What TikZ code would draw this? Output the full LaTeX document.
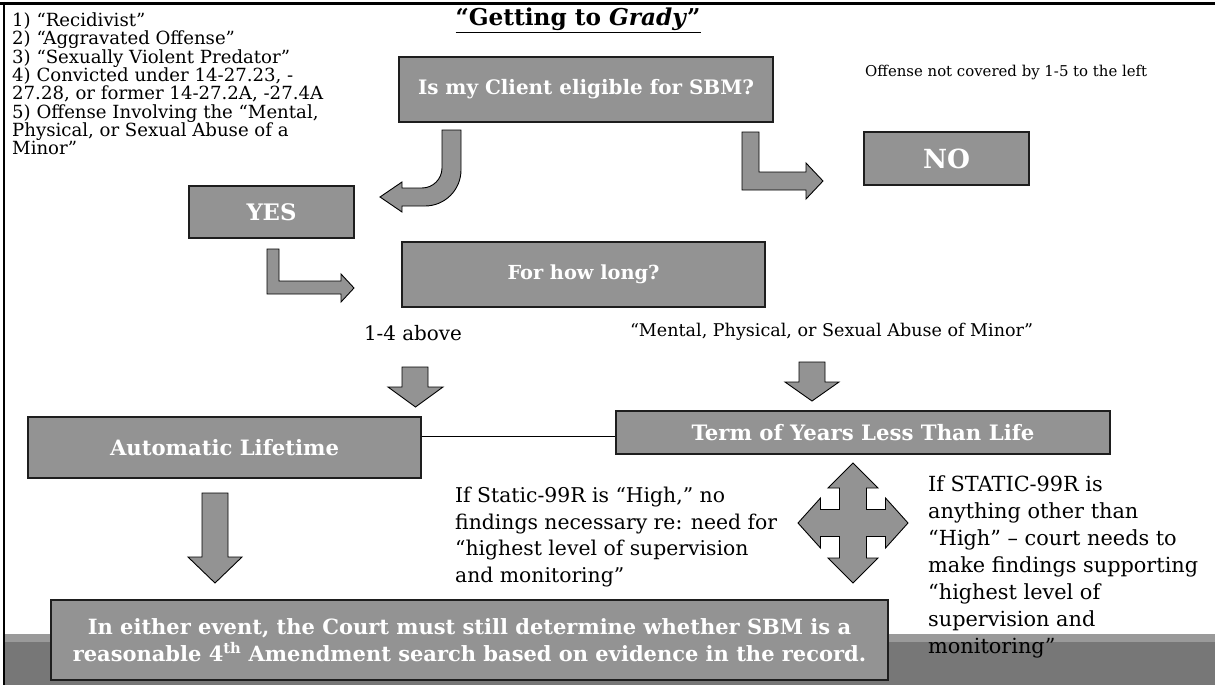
\documentclass[tikz,border=0pt]{standalone}
\usepackage{fontspec}
\setmainfont{DejaVu Serif}
\newlength\fitlen
% #1 target width of the sample line (pt), #2 baselineskip (pt), #3 sample line
\newcommand\fitto[3]{\settowidth\fitlen{\fontsize{10pt}{12pt}\selectfont #3}\pgfmathsetmacro\fitfs{10*#1/\fitlen}\fontsize{\fitfs pt}{#2pt}\selectfont}
\definecolor{boxgray}{HTML}{939393}
\definecolor{boxline}{HTML}{1E1E1E}
\definecolor{bandlight}{HTML}{9A9A9A}
\definecolor{banddark}{HTML}{777777}
\tikzset{
  gbox/.style={draw=boxline, line width=1.4pt, fill=boxgray, text=white, inner sep=0pt, align=center},
  blockarrow/.style={draw=black, line width=0.9pt, fill=boxgray, line join=miter},
  plain/.style={inner sep=0pt, text=black},
  link/.style={draw=black, line width=0.8pt},
}
\begin{document}
\begin{tikzpicture}[x=1pt,y=-1pt]
\useasboundingbox (0,0) rectangle (1215,685);
% bottom band
\fill[bandlight] (4,634) rectangle (1215,642);
\fill[banddark] (4,642) rectangle (1215,685);
% frame
\draw[line width=3pt] (0,3.5) -- (1215,3.5);
\draw[line width=2.5pt] (4,2) -- (4,685);

% title
\node[plain, font={\bfseries\fitto{245}{20}{“Getting to \textit{Grady}”}}] (title) at (578,20) {\underline{“Getting to \textit{Grady}”}};

% left list
\node[plain, anchor=west, align=left, font={\fitto{311}{18.33}{27.28, or former 14-27.2A, -27.4A}}] (list) at (12,84) {1) “Recidivist”\\2) “Aggravated Offense”\\3) “Sexually Violent Predator”\\4) Convicted under 14-27.23, -\\27.28, or former 14-27.2A, -27.4A\\5) Offense Involving the “Mental,\\Physical, or Sexual Abuse of a\\Minor”};

% free labels
\node[plain, anchor=west, font={\fitto{282}{18}{Offense not covered by 1-5 to the left}}] (offense) at (865,72) {Offense not covered by 1-5 to the left};
\node[plain, font={\fitto{98}{18}{1-4 above}}] (above) at (413,333) {1-4 above};
\node[plain, font={\fitto{403}{18}{“Mental, Physical, or Sexual Abuse of Minor”}}] (mental) at (831.5,332) {“Mental, Physical, or Sexual Abuse of Minor”};
\node[plain, anchor=west, align=left, font={\fitto{322}{26.8}{findings necessary re: need for}}] (high) at (455,537) {If Static-99R is “High,” no\\findings necessary re: need for\\“highest level of supervision\\and monitoring”};
\node[plain, anchor=west, align=left, font={\fitto{270}{27}{make findings supporting}}] (other) at (928,566.5) {If STATIC-99R is\\anything other than\\“High” – court needs to\\make findings supporting\\“highest level of\\supervision and\\monitoring”};

% boxes
\node[gbox, minimum width=374pt, minimum height=65pt, font={\bfseries\fitto{336}{20}{Is my Client eligible for SBM?}}] (q) at (586,89.5) {Is my Client eligible for SBM?};
\node[gbox, minimum width=165pt, minimum height=52pt, font={\bfseries\fitto{50}{20}{YES}}] (yes) at (271.5,212) {YES};
\node[gbox, minimum width=165pt, minimum height=53pt, font={\bfseries\fitto{47}{20}{NO}}] (no) at (946.5,158.5) {NO};
\node[gbox, minimum width=363pt, minimum height=65pt, font={\bfseries\fitto{152}{20}{For how long?}}] (long) at (583.5,274.5) {For how long?};
\node[gbox, minimum width=393pt, minimum height=61pt, font={\bfseries\fitto{229}{20}{Automatic Lifetime}}] (auto) at (224.5,447.5) {Automatic Lifetime};
\node[gbox, minimum width=494pt, minimum height=43pt, font={\bfseries\fitto{343}{20}{Term of Years Less Than Life}}] (term) at (863,432.5) {Term of Years Less Than Life};
\node[gbox, minimum width=837pt, minimum height=80pt, font={\bfseries\fitto{794}{27}{reasonable 4\textsuperscript{th} Amendment search based on evidence in the record.}}] (either) at (469.5,640) {In either event, the Court must still determine whether SBM is a\\reasonable 4\textsuperscript{th} Amendment search based on evidence in the record.};

% connector between the two outcomes
\draw[link] (auto.east |- 0,436.5) -- (term.west |- 0,436.5);

% block arrows
% curved arrow from question to YES
\draw[blockarrow] (442,130) -- (461,130) -- (461,170) .. controls (461,189.9) and (444.9,206) .. (425,206) -- (402,206) -- (402,212) -- (380,197) -- (402,182) -- (402,188) -- (422,188) .. controls (433,188) and (442,179) .. (442,168) -- cycle;
% bent arrow from question to NO
\draw[blockarrow] (742,132) -- (759,132) -- (759,172) -- (806,172) -- (806,163) -- (823,181) -- (806,199) -- (806,190) -- (742,190) -- cycle;
% bent arrow from YES to "For how long?"
\draw[blockarrow] (267,249) -- (279,249) -- (279,281) -- (341,281) -- (341,274) -- (354,288) -- (341,302) -- (341,294) -- (267,294) -- cycle;
% down arrow under "1-4 above"
\draw[blockarrow] (402,367) -- (428,367) -- (428,387) -- (443,387) -- (415.5,407) -- (388,387) -- (402,387) -- cycle;
% down arrow under "Mental ..."
\draw[blockarrow] (799,362) -- (825,362) -- (825,382) -- (839,382) -- (812,401) -- (785,382) -- (799,382) -- cycle;
% down arrow under Automatic Lifetime
\draw[blockarrow] (202,493) -- (228,493) -- (228,557) -- (242,557) -- (215,583) -- (188,557) -- (202,557) -- cycle;
% four-way arrow
\begin{scope}[shift={(853,523)}]
\draw[blockarrow] (0,-60) -- (25,-35) -- (13.5,-35) -- (13.5,-13.5) -- (32.5,-13.5) -- (32.5,-25) -- (55,0) -- (32.5,25) -- (32.5,13.5) -- (13.5,13.5) -- (13.5,35) -- (25,35) -- (0,60) -- (-25,35) -- (-13.5,35) -- (-13.5,13.5) -- (-32.5,13.5) -- (-32.5,25) -- (-55,0) -- (-32.5,-25) -- (-32.5,-13.5) -- (-13.5,-13.5) -- (-13.5,-35) -- (-25,-35) -- cycle;
\end{scope}
\end{tikzpicture}
\end{document}
